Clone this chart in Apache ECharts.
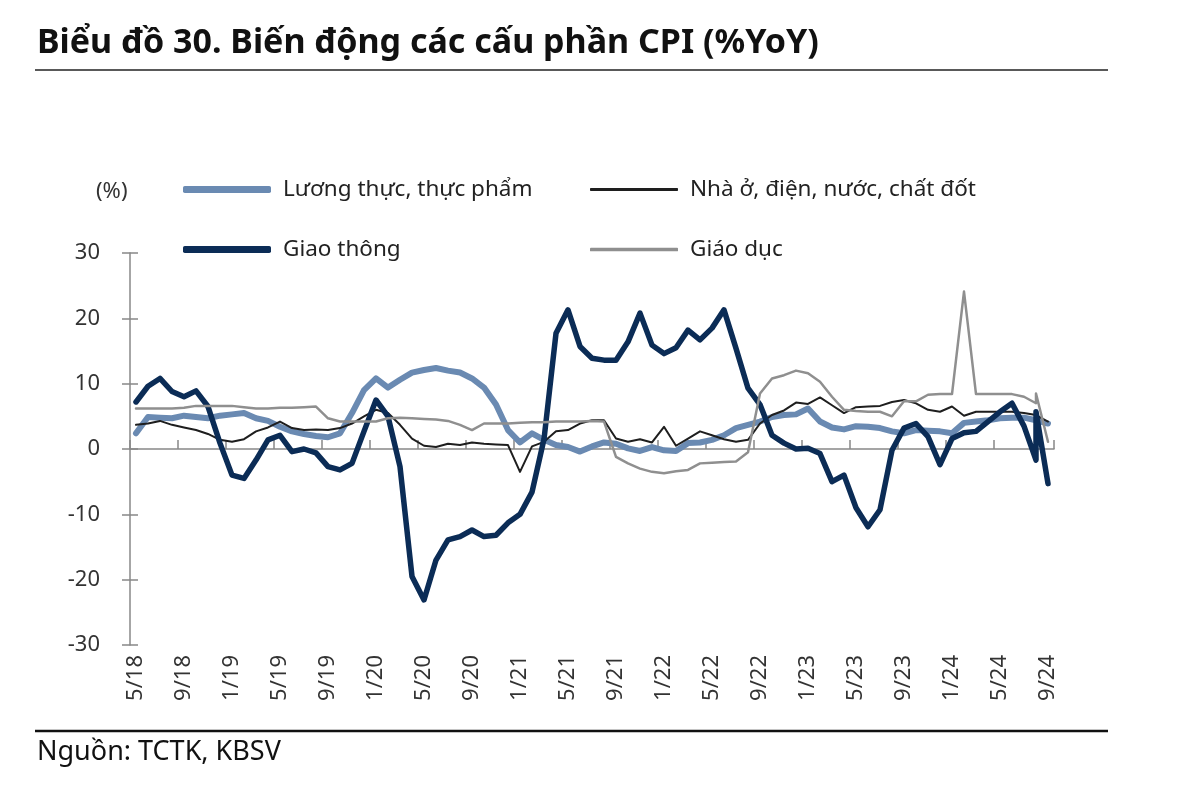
<!DOCTYPE html>
<html>
<head>
<meta charset="utf-8">
<script src="https://cdn.jsdelivr.net/npm/echarts@6/dist/echarts.min.js"></script>
<style>
  html, body { margin: 0; padding: 0; background: #fff; }
  #chart { width: 1200px; height: 791px; }
</style>
</head>
<body>
<div id="chart"></div>
<script>
// Month categories (m/yy)
const categories = [
  '5/18','6/18','7/18','8/18','9/18','10/18','11/18','12/18',
  '1/19','2/19','3/19','4/19','5/19','6/19','7/19','8/19','9/19','10/19','11/19','12/19',
  '1/20','2/20','3/20','4/20','5/20','6/20','7/20','8/20','9/20','10/20','11/20','12/20',
  '1/21','2/21','3/21','4/21','5/21','6/21','7/21','8/21','9/21','10/21','11/21','12/21',
  '1/22','2/22','3/22','4/22','5/22','6/22','7/22','8/22','9/22','10/22','11/22','12/22',
  '1/23','2/23','3/23','4/23','5/23','6/23','7/23','8/23','9/23','10/23','11/23','12/23',
  '1/24','2/24','3/24','4/24','5/24','6/24','7/24','8/24','9/24'
];
// The source repeats one observation in 8/24 (two readings in that month)
const pointCat = categories.map((c, i) => i);
pointCat.splice(76, 0, 75);

const seriesNames = ['Lương thực, thực phẩm', 'Nhà ở, điện, nước, chất đốt', 'Giao thông', 'Giáo dục'];

const luongThuc = [
  2.4, 4.9, 4.8, 4.7, 5.1, 4.9, 4.7, 5.1, 5.3, 5.5,
  4.7, 4.3, 3.4, 2.7, 2.3, 2.0, 1.8, 2.4, 5.5, 9.0,
  10.8, 9.4, 10.6, 11.7, 12.1, 12.4, 12.0, 11.7, 10.8, 9.4,
  6.8, 2.9, 1.0, 2.4, 1.4, 0.6, 0.3, -0.4, 0.4, 1.0,
  0.8, 0.1, -0.3, 0.3, -0.2, -0.3, 0.9, 1.0, 1.4, 2.1,
  3.2, 3.7, 4.2, 4.9, 5.2, 5.3, 6.2, 4.2, 3.3, 3.0,
  3.5, 3.4, 3.2, 2.7, 2.4, 2.9, 2.8, 2.7, 2.4, 4.0,
  4.2, 4.4, 4.7, 4.8, 4.8, 4.4, 4.4, 3.9
];
const nhaO = [
  3.7, 3.9, 4.3, 3.7, 3.3, 2.9, 2.3, 1.4, 1.1, 1.5,
  2.7, 3.3, 4.2, 3.2, 2.9, 3.0, 2.9, 3.2, 3.9, 5.0,
  6.0, 5.5, 3.7, 1.6, 0.5, 0.3, 0.8, 0.6, 1.0, 0.8,
  0.7, 0.6, -3.5, 0.4, 1.1, 2.7, 2.9, 3.9, 4.4, 4.4,
  1.6, 1.1, 1.5, 1.0, 3.4, 0.5, 1.6, 2.7, 2.1, 1.5,
  1.1, 1.4, 3.9, 5.2, 5.9, 7.1, 6.9, 7.9, 6.7, 5.5,
  6.4, 6.5, 6.6, 7.2, 7.5, 7.0, 6.0, 5.7, 6.5, 5.1,
  5.7, 5.7, 5.7, 5.7, 5.5, 5.2, 5.2, 4.2
];
const giaoThong = [
  7.2, 9.6, 10.8, 8.8, 8.0, 8.9, 6.5, 0.9, -4.0, -4.5,
  -1.7, 1.4, 2.1, -0.4, 0.0, -0.6, -2.7, -3.2, -2.2, 2.7,
  7.5, 5.0, -2.7, -19.5, -23.1, -17.0, -13.9, -13.4, -12.4, -13.4,
  -13.2, -11.3, -10.0, -6.6, 1.5, 17.7, 21.3, 15.7, 13.9, 13.6,
  13.6, 16.4, 20.8, 15.9, 14.6, 15.5, 18.2, 16.7, 18.5, 21.3,
  15.4, 9.3, 6.8, 2.1, 0.9, 0.0, 0.1, -0.7, -5.0, -4.0,
  -9.0, -11.9, -9.3, -0.2, 3.2, 3.9, 1.9, -2.4, 1.6, 2.5,
  2.7, 4.2, 5.7, 7.0, 3.5, -1.7, 5.7, -5.3
];
const giaoDuc = [
  6.2, 6.2, 6.2, 6.2, 6.3, 6.6, 6.6, 6.6, 6.6, 6.4,
  6.2, 6.2, 6.3, 6.3, 6.4, 6.5, 4.7, 4.2, 4.2, 4.2,
  4.2, 4.7, 4.8, 4.7, 4.6, 4.5, 4.3, 3.7, 2.9, 3.9,
  3.9, 3.9, 4.0, 4.1, 4.1, 4.2, 4.2, 4.2, 4.3, 4.2,
  -1.2, -2.2, -3.0, -3.5, -3.7, -3.4, -3.2, -2.2, -2.1, -2.0,
  -1.9, -0.5, 8.5, 10.8, 11.3, 12.0, 11.6, 10.3, 8.0, 6.0,
  5.8, 5.7, 5.7, 5.0, 7.3, 7.3, 8.3, 8.4, 8.4, 24.1,
  8.4, 8.4, 8.4, 8.4, 8.0, 7.0, 8.5, 1.1
];
const yTicks = { min: -30, max: 30, interval: 10 };

const FONT = '"Noto Sans", sans-serif';
const colors = ['#6a8ab2', '#1e1e1e', '#0b2c56', '#8f8f8f'];
const widths = [6, 2, 5.5, 2.5];
const values = [luongThuc, nhaO, giaoThong, giaoDuc];

const chart = echarts.init(document.getElementById('chart'), null, { renderer: 'canvas' });

const legendPos = [
  { left: 178, top: 173 },
  { left: 585, top: 173 },
  { left: 178, top: 233 },
  { left: 585, top: 233 }
];
const legendH = [7, 3, 7, 3.5];

const option = {
  animation: false,
  backgroundColor: '#fff',
  title: [
    {
      text: 'Biểu đồ 30. Biến động các cấu phần CPI (%YoY)',
      left: 32, top: 21,
      textStyle: { fontFamily: FONT, fontWeight: 'bold', fontSize: 34, color: '#111' }
    },
    {
      text: 'Nguồn: TCTK, KBSV',
      left: 32, top: 734,
      textStyle: { fontFamily: FONT, fontWeight: 'normal', fontSize: 27, color: '#111' }
    }
  ],
  graphic: [
    { type: 'line', shape: { x1: 35, y1: 70, x2: 1108, y2: 70 }, style: { stroke: '#222', lineWidth: 1.5 } },
    { type: 'line', shape: { x1: 35, y1: 731, x2: 1108, y2: 731 }, style: { stroke: '#111', lineWidth: 2.5 } },
    { type: 'text', left: 96, top: 181, style: { text: '(%)', fontFamily: FONT, fontSize: 22, fill: '#333' } }
  ],
  legend: seriesNames.map((n, i) => ({
    data: [{ name: n, icon: 'roundRect' }],
    left: legendPos[i].left, top: legendPos[i].top,
    itemWidth: 88, itemHeight: legendH[i],
    selectedMode: false,
    textStyle: { fontFamily: FONT, fontSize: 22.5, color: '#222', padding: [0, 0, 0, 7] }
  })),
  grid: { left: 130, right: 146, top: 253, bottom: 146, containLabel: false },
  xAxis: [
    {
      type: 'category', data: categories, boundaryGap: true,
      axisLine: { onZero: true, onZeroAxisIndex: 0, lineStyle: { color: '#888', width: 1.5 } },
      axisTick: { show: true, inside: true, length: 9, interval: 3, lineStyle: { color: '#888', width: 1.5 } },
      axisLabel: { show: false },
      splitLine: { show: false }
    },
    {
      type: 'category', data: categories, boundaryGap: true, position: 'bottom',
      axisLine: { show: false, onZero: false },
      axisTick: { show: false },
      axisLabel: { show: true, interval: 3, rotate: 90, margin: 10, fontFamily: FONT, fontSize: 22, color: '#333' },
      splitLine: { show: false }
    }
  ],
  yAxis: [
    {
      type: 'value', min: yTicks.min, max: yTicks.max, interval: yTicks.interval, position: 'left',
      axisLine: { show: true, onZero: false, lineStyle: { color: '#888', width: 1.5 } },
      axisTick: { show: true, inside: false, length: 8, lineStyle: { color: '#888', width: 1.5 } },
      axisLabel: { margin: 30, fontFamily: FONT, fontSize: 22, color: '#333' },
      splitLine: { show: false }
    },
    {
      type: 'value', min: yTicks.min, max: yTicks.max, interval: yTicks.interval, position: 'left',
      axisLine: { show: false, onZero: false },
      axisTick: { show: true, inside: true, length: 8, lineStyle: { color: '#888', width: 1.5 } },
      axisLabel: { show: false },
      splitLine: { show: false }
    }
  ],
  series: seriesNames.map((n, i) => ({
    name: n, type: 'line', xAxisIndex: 0, yAxisIndex: 0,
    data: values[i].map((v, k) => [pointCat[k], v]),
    showSymbol: false, symbol: 'none', smooth: false,
    lineStyle: { color: colors[i], width: widths[i], cap: 'round', join: 'round' },
    itemStyle: { color: colors[i] },
    z: 2 + i
  }))
};
chart.setOption(option);
</script>
</body>
</html>
